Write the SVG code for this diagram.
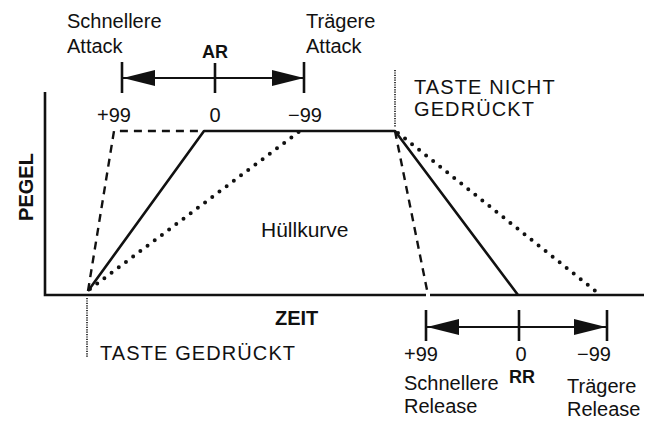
<svg xmlns="http://www.w3.org/2000/svg" width="648" height="424" viewBox="0 0 648 424">
  <style>
    .txt { font-family: "Liberation Sans", Arial, Helvetica, sans-serif; font-size: 20px; fill: #111; }
    .caps { letter-spacing: 1.1px; }
    .bold { font-weight: bold; }
    .mid { text-anchor: middle; }
    .axis { stroke: #111; stroke-width: 2.6; fill: none; }
    .solid { stroke: #111; stroke-width: 2.6; fill: none; stroke-linejoin: round; }
    .dashed { stroke: #111; stroke-width: 2.4; fill: none; stroke-dasharray: 8 6; }
    .dotted { stroke: #111; stroke-width: 4; fill: none; stroke-linecap: round; stroke-dasharray: 0 9; }
    .marker-line { stroke: #111; stroke-width: 1.6; stroke-dasharray: 1.2 1.2; fill: none; }
    .scale { stroke: #111; stroke-width: 2.2; fill: none; }
    .tick { stroke: #111; stroke-width: 2.6; }
  </style>
  <defs>
    <marker id="arrowhead" viewBox="0 0 32 16" refX="32" refY="8" markerWidth="32" markerHeight="16" markerUnits="userSpaceOnUse" orient="auto-start-reverse">
      <path d="M0,0 L32,8 L0,16 Z" fill="#111"/>
    </marker>
  </defs>
  <rect width="648" height="424" fill="#fff"/>

  <!-- Axes -->
  <g id="axes">
    <path class="axis" d="M45,92 V295 H426"/>
    <path class="axis" d="M430,295 H644"/>
    <text class="txt bold mid" transform="translate(33,187) rotate(-90)">PEGEL</text>
    <text class="txt bold" x="275" y="325">ZEIT</text>
  </g>

  <!-- Envelope curves: solid (AR/RR = 0), dashed (fast), dotted (slow) -->
  <g id="envelope">
    <path id="env-solid" class="solid" d="M88,291 L204,131 H395 L518,295"/>
    <path id="attack-fast" class="dashed" d="M88,291 L114,131 H204"/>
    <path id="release-fast" class="dashed" d="M395,131 L428,295"/>
    <path id="attack-slow" class="dotted" d="M90,289 L300,131"/>
    <path id="release-slow" class="dotted" d="M398,133 L598,293"/>
    <text class="txt" x="261" y="237" style="font-size:21px">Hüllkurve</text>
  </g>

  <!-- Key on / key off markers -->
  <g id="key-on">
    <line class="marker-line" x1="87" y1="298" x2="87" y2="358"/>
    <text class="txt caps" x="100" y="360">TASTE GEDRÜCKT</text>
  </g>
  <g id="key-off">
    <line class="marker-line" x1="395" y1="70" x2="395" y2="127"/>
    <text class="txt caps" x="414" y="94">TASTE NICHT</text>
    <text class="txt caps" x="414" y="116">GEDRÜCKT</text>
  </g>

  <!-- Attack rate scale -->
  <g id="ar-scale">
    <line class="scale" x1="123" y1="78" x2="304" y2="78" marker-start="url(#arrowhead)" marker-end="url(#arrowhead)"/>
    <line class="tick" x1="122" y1="62" x2="122" y2="93"/>
    <line class="tick" x1="215" y1="63" x2="215" y2="93"/>
    <line class="tick" x1="304" y1="62" x2="304" y2="93"/>
    <text class="txt" x="67" y="28">Schnellere</text>
    <text class="txt" x="67" y="53">Attack</text>
    <text class="txt" x="306" y="28">Trägere</text>
    <text class="txt" x="306" y="53">Attack</text>
    <text class="txt bold mid" x="215" y="58" style="font-size:18px">AR</text>
    <text class="txt mid" x="114" y="122">+99</text>
    <text class="txt mid" x="215" y="122">0</text>
    <text class="txt mid" x="305" y="122">−99</text>
  </g>

  <!-- Release rate scale -->
  <g id="rr-scale">
    <line class="scale" x1="427" y1="327" x2="606" y2="327" marker-start="url(#arrowhead)" marker-end="url(#arrowhead)"/>
    <line class="tick" x1="426" y1="310" x2="426" y2="341"/>
    <line class="tick" x1="519" y1="310" x2="519" y2="341"/>
    <line class="tick" x1="607" y1="310" x2="607" y2="341"/>
    <text class="txt mid" x="421" y="361">+99</text>
    <text class="txt mid" x="521" y="361">0</text>
    <text class="txt mid" x="594" y="361">−99</text>
    <text class="txt bold mid" x="522" y="383" style="font-size:18px">RR</text>
    <text class="txt" x="404" y="390">Schnellere</text>
    <text class="txt" x="404" y="413">Release</text>
    <text class="txt" x="567" y="393">Trägere</text>
    <text class="txt" x="567" y="416">Release</text>
  </g>
</svg>
